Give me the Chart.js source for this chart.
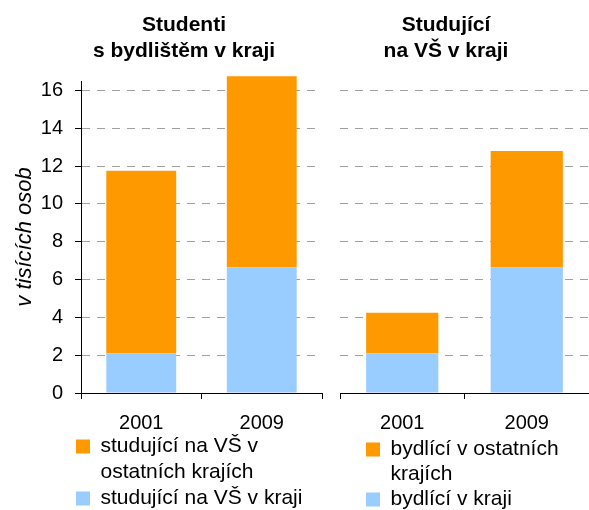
<!DOCTYPE html>
<html>
<head>
<meta charset="utf-8">
<script src="https://cdn.jsdelivr.net/npm/chart.js@4"></script>
<style>
  html, body { margin: 0; padding: 0; background: #fff; overflow: hidden; }
  #wrap { position: relative; width: 589px; height: 510px; }
  canvas { position: absolute; top: 0; }
  #left { left: 0; }
  #right { left: 331px; }
</style>
</head>
<body>
<div id="wrap">
  <canvas id="left" width="331" height="510"></canvas>
  <canvas id="right" width="258" height="510"></canvas>
</div>
<script>
const years = ["2001", "2009"];

// v tisících osob
const studInRegion = [2.1, 6.65];       // studující na VŠ v kraji
const studOtherRegions = [9.65, 10.1];  // studující na VŠ v ostatních krajích
const resInRegion = [2.1, 6.65];        // bydlící v kraji
const resOtherRegions = [2.15, 6.15];   // bydlící v ostatních krajích

const leftTitle = ["Studenti", "s bydlištěm v kraji"];
const rightTitle = ["Studující", "na VŠ v kraji"];
const leftLegend = ["studující na VŠ v", "ostatních krajích", "studující na VŠ v kraji"];
const rightLegend = ["bydlící v ostatních", "krajích", "bydlící v kraji"];

const ORANGE = "#FF9900";
const BLUE = "#99CCFF";

Chart.defaults.font.family = "'Liberation Sans', Arial, sans-serif";
Chart.defaults.font.size = 20;
Chart.defaults.color = "#000";

// moves title and legend to where the original puts them
const placeBoxes = {
  id: "placeBoxes",
  afterUpdate(chart, args, opts) {
    const t = chart.titleBlock;
    if (t && opts.titleCenter != null) {
      const w = t.right - t.left;
      t.left = opts.titleCenter - w / 2;
      t.right = t.left + w;
    }
    const lg = chart.legend;
    if (lg && opts.legendX != null) {
      const pad = lg.options.labels.padding;
      lg.left = opts.legendX - pad;
      lg.right = lg.left + lg.width;
      lg.top = opts.legendY - pad - 10;
      lg.bottom = lg.top + 200;
    }
  }
};

function buildPanel(id, title, legendText, bottomVals, topVals, isLeft, place) {
  const ctx = document.getElementById(id);
  return new Chart(ctx, {
    type: "bar",
    data: {
      labels: years,
      datasets: [
        { data: bottomVals, backgroundColor: BLUE, clip: false },
        { data: topVals, backgroundColor: ORANGE, clip: false }
      ]
    },
    options: {
      responsive: false,
      animation: false,
      barPercentage: 0.58,
      categoryPercentage: 1,
      layout: { padding: { left: isLeft ? 10 : 9, right: isLeft ? 9 : 0, top: 0, bottom: 0 } },
      plugins: {
        tooltip: { enabled: false },
        title: {
          display: true,
          text: title,
          font: { size: 21, weight: "bold", lineHeight: 1.25 },
          padding: { top: 12, bottom: 16.5 }
        },
        legend: {
          position: "chartArea",
          align: "start",
          labels: {
            boxWidth: 14,
            boxHeight: 14,
            padding: isLeft ? 5 : 4,
            font: { size: 21 },
            generateLabels: () => legendText.map((text, i) => ({
              text,
              fillStyle: i === 0 ? ORANGE : i === 2 ? BLUE : "rgba(0,0,0,0)",
              strokeStyle: "rgba(0,0,0,0)",
              lineWidth: 0,
              hidden: false,
              datasetIndex: i === 2 ? 0 : 1
            }))
          }
        },
        placeBoxes: place
      },
      scales: {
        x: {
          stacked: true,
          offset: true,
          grid: { drawOnChartArea: false, drawTicks: true, tickLength: 6, tickColor: "#000", offset: true },
          border: { display: true, color: "#000" },
          ticks: { padding: 12, color: "#000" },
          afterFit: s => { s.height = 117; }
        },
        y: {
          stacked: true,
          min: 0,
          max: 16.5,
          ticks: { stepSize: 2, includeBounds: false, padding: 12, display: isLeft, color: "#000" },
          grid: {
            color: c => (c.tick && c.tick.value === 0 ? "rgba(0,0,0,0)" : "#a0a0a0"),
            tickColor: "#000",
            tickLength: 6,
            drawTicks: isLeft
          },
          border: { display: isLeft, color: "#000", dash: [8, 7] },
          title: {
            display: isLeft,
            text: "v tisících osob",
            font: { size: 22, style: "italic" },
            padding: { top: 2, bottom: 0 }
          },
          afterFit: s => { s.width = isLeft ? 71 : 0; }
        }
      }
    },
    plugins: [placeBoxes]
  });
}

buildPanel("left", leftTitle, leftLegend, studInRegion, studOtherRegions, true,
  { titleCenter: 184, legendX: 76, legendY: 446 });
buildPanel("right", rightTitle, rightLegend, resInRegion, resOtherRegions, false,
  { titleCenter: 115, legendX: 35, legendY: 449 });
</script>
</body>
</html>
